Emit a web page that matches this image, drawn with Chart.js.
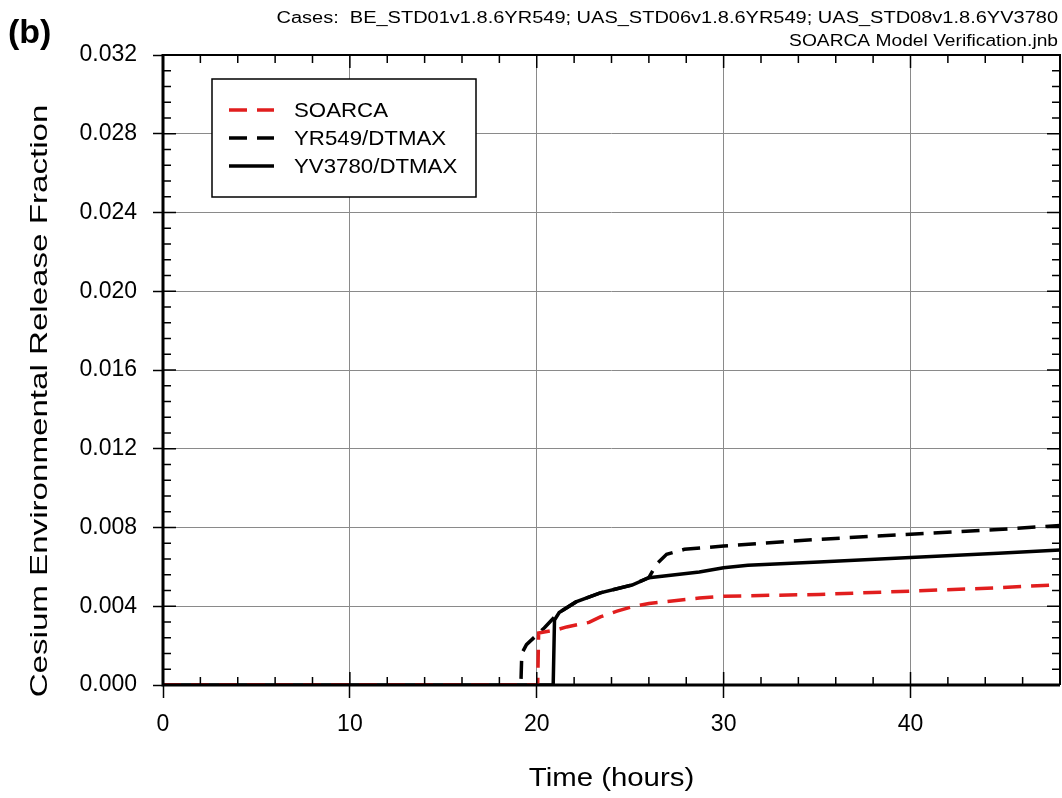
<!DOCTYPE html>
<html>
<head>
<meta charset="UTF-8" />
<title>Cesium release fraction</title>
<style>
html, body { margin: 0; padding: 0; background: #fff; }
#wrap { width: 1062px; height: 798px; }
</style>
</head>
<body>
<script src="https://cdn.jsdelivr.net/npm/chart.js@4.4.1/dist/chart.umd.min.js"></script>
<div id="wrap"><canvas id="myChart" width="1062" height="798"></canvas></div>
<script>
// values
const seriesNames = ['SOARCA', 'YR549/DTMAX', 'YV3780/DTMAX'];

const timeSoarca = [0, 20.05, 20.1, 21.05, 21.6, 22.8, 23.4, 24.3, 25.1, 26.0, 28.7, 30.0, 35.1, 40.0, 44.7, 48];
const valSoarca  = [0, 0, 0.00264, 0.0028, 0.00295, 0.00318, 0.00346, 0.00375, 0.00397, 0.00414, 0.00442, 0.00451, 0.0046, 0.00477, 0.00494, 0.0051];

const timeYR549 = [0, 19.15, 19.2, 19.45, 19.9, 20.4, 20.9, 21.2, 22.1, 23.4, 25.1, 26.0, 26.4, 26.95, 27.9, 30.0, 35.1, 40.0, 44.7, 48];
const valYR549  = [0, 0, 0.0016, 0.00205, 0.00245, 0.0029, 0.0034, 0.00368, 0.00422, 0.00468, 0.00508, 0.00545, 0.00613, 0.00664, 0.00689, 0.00706, 0.0074, 0.00766, 0.0079, 0.0081];

const timeYV3780 = [0, 20.88, 20.95, 21.2, 22.1, 23.4, 25.1, 26.0, 28.7, 30.0, 31.3, 35.1, 40.0, 44.7, 48];
const valYV3780  = [0, 0, 0.0033, 0.00368, 0.00422, 0.00468, 0.00508, 0.00545, 0.00574, 0.00596, 0.00608, 0.00625, 0.00647, 0.00669, 0.00686];

const xTicks = [0, 10, 20, 30, 40];
const yTicks = [0, 0.004, 0.008, 0.012, 0.016, 0.020, 0.024, 0.028, 0.032];

const caseText = 'Cases:  BE_STD01v1.8.6YR549; UAS_STD06v1.8.6YR549; UAS_STD08v1.8.6YV3780';
const fileText = 'SOARCA Model Verification.jnb';
const panelText = '(b)';
const xTitle = 'Time (hours)';
const yTitle = 'Cesium Environmental Release Fraction';

const FONT = '"Liberation Sans", Arial, sans-serif';

function pts(t, v) {
	return t.map((x, i) => ({x: x, y: v[i]}));
}

// text drawn a bit wider than the font, like the original
function wideText(ctx, txt, x, y, align, sx) {
	const w = ctx.measureText(txt).width * sx;
	let left = x;
	if (align === 'right') left = x - w;
	else if (align === 'center') left = x - w / 2;
	ctx.save();
	ctx.translate(left, y);
	ctx.scale(sx, 1);
	ctx.textAlign = 'left';
	ctx.fillText(txt, 0, 0);
	ctx.restore();
}

const frame = {
	id: 'frame',
	afterDatasetsDraw(chart) {
		const ctx = chart.ctx;
		const a = chart.chartArea;
		const xs = chart.scales.x, ys = chart.scales.y;
		ctx.save();
		ctx.strokeStyle = '#000';
		// minor and inner major ticks
		ctx.lineWidth = 1.5;
		for (let h = 0; h <= 48; h += 2) {
			const px = xs.getPixelForValue(h);
			const len = (h % 10 === 0) ? 13 : 8;
			ctx.beginPath();
			ctx.moveTo(px, a.bottom); ctx.lineTo(px, a.bottom - len);
			ctx.moveTo(px, a.top); ctx.lineTo(px, a.top + len);
			ctx.stroke();
		}
		for (let k = 0; k <= 40; k++) {
			const py = ys.getPixelForValue(k * 0.0008);
			const len = (k % 5 === 0) ? 13 : 8;
			ctx.beginPath();
			ctx.moveTo(a.left, py); ctx.lineTo(a.left + len, py);
			ctx.moveTo(a.right, py); ctx.lineTo(a.right - len, py);
			ctx.stroke();
		}
		// frame
		ctx.lineWidth = 2;
		ctx.beginPath();
		ctx.moveTo(a.left, a.top); ctx.lineTo(a.right, a.top); ctx.lineTo(a.right, a.bottom);
		ctx.stroke();
		ctx.lineWidth = 3;
		ctx.beginPath();
		ctx.moveTo(a.left, a.top - 1); ctx.lineTo(a.left, a.bottom); ctx.lineTo(a.right, a.bottom);
		ctx.stroke();

		// legend box
		const lx = 212, ly = 79, lw = 264, lh = 118;
		ctx.fillStyle = '#fff';
		ctx.fillRect(lx, ly, lw, lh);
		ctx.lineWidth = 1.5;
		ctx.strokeRect(lx, ly, lw, lh);
		ctx.font = '21px ' + FONT;
		ctx.textBaseline = 'middle';
		chart.data.datasets.forEach((ds, i) => {
			const yy = 110 + i * 28;
			ctx.strokeStyle = ds.borderColor;
			ctx.lineWidth = ds.borderWidth;
			ctx.setLineDash(ds.borderDash || []);
			ctx.beginPath();
			ctx.moveTo(229, yy); ctx.lineTo(274, yy);
			ctx.stroke();
			ctx.setLineDash([]);
			ctx.fillStyle = '#000';
			wideText(ctx, ds.label, 294, yy + 1, 'left', 1.06);
		});

		// texts
		ctx.fillStyle = '#000';
		ctx.textBaseline = 'alphabetic';
		ctx.font = 'bold 34px ' + FONT;
		ctx.textAlign = 'left';
		ctx.fillText(panelText, 8, 43);
		ctx.font = '16px ' + FONT;
		wideText(ctx, caseText, 1058, 23, 'right', 1.25);
		wideText(ctx, fileText, 1058, 46, 'right', 1.2);
		ctx.font = '26px ' + FONT;
		wideText(ctx, xTitle, (a.left + a.right) / 2, 786, 'center', 1.13);
		ctx.font = '24px ' + FONT;
		ctx.translate(47, 401);
		ctx.rotate(-Math.PI / 2);
		wideText(ctx, yTitle, 0, 0, 'center', 1.38);
		ctx.restore();
	}
};

const data = {
	datasets: [{
		label: seriesNames[0],
		data: pts(timeSoarca, valSoarca),
		borderColor: 'rgb(225, 30, 30)',
		borderWidth: 3.5,
		borderDash: [18, 10]
	}, {
		label: seriesNames[1],
		data: pts(timeYR549, valYR549),
		borderColor: '#000',
		borderWidth: 3.5,
		borderDash: [18, 10]
	}, {
		label: seriesNames[2],
		data: pts(timeYV3780, valYV3780),
		borderColor: '#000',
		borderWidth: 3.5
	}]
};

const config = {
	type: 'line',
	data,
	options: {
		responsive: false,
		animation: false,
		elements: { point: { radius: 0 }, line: { tension: 0, fill: false } },
		layout: { padding: { top: 55, right: 2, left: 0, bottom: 0 } },
		plugins: { legend: { display: false }, tooltip: { enabled: false } },
		scales: {
			x: {
				type: 'linear',
				min: 0,
				max: 48,
				afterBuildTicks: scale => { scale.ticks = xTicks.map(v => ({value: v})); },
				afterFit: scale => { scale.height = 113; },
				grid: { color: '#8a8a8a', lineWidth: 1, tickLength: 13, tickColor: '#000', tickWidth: 1.5 },
				border: { display: false },
				ticks: { font: { size: 23, family: FONT }, color: '#000', padding: 13, maxRotation: 0 }
			},
			y: {
				type: 'linear',
				min: 0,
				max: 0.032,
				afterBuildTicks: scale => { scale.ticks = yTicks.map(v => ({value: v})); },
				afterFit: scale => { scale.width = 163; },
				grid: { color: '#8a8a8a', lineWidth: 1, tickLength: 10, tickColor: '#000', tickWidth: 1.5 },
				border: { display: false },
				ticks: { font: { size: 23, family: FONT }, color: '#000', padding: 16,
					callback: v => v.toFixed(3) }
			}
		}
	},
	plugins: [frame]
};

var ctx = document.getElementById('myChart').getContext('2d');
var myChart = new Chart(ctx, config);
</script>
</body>
</html>
